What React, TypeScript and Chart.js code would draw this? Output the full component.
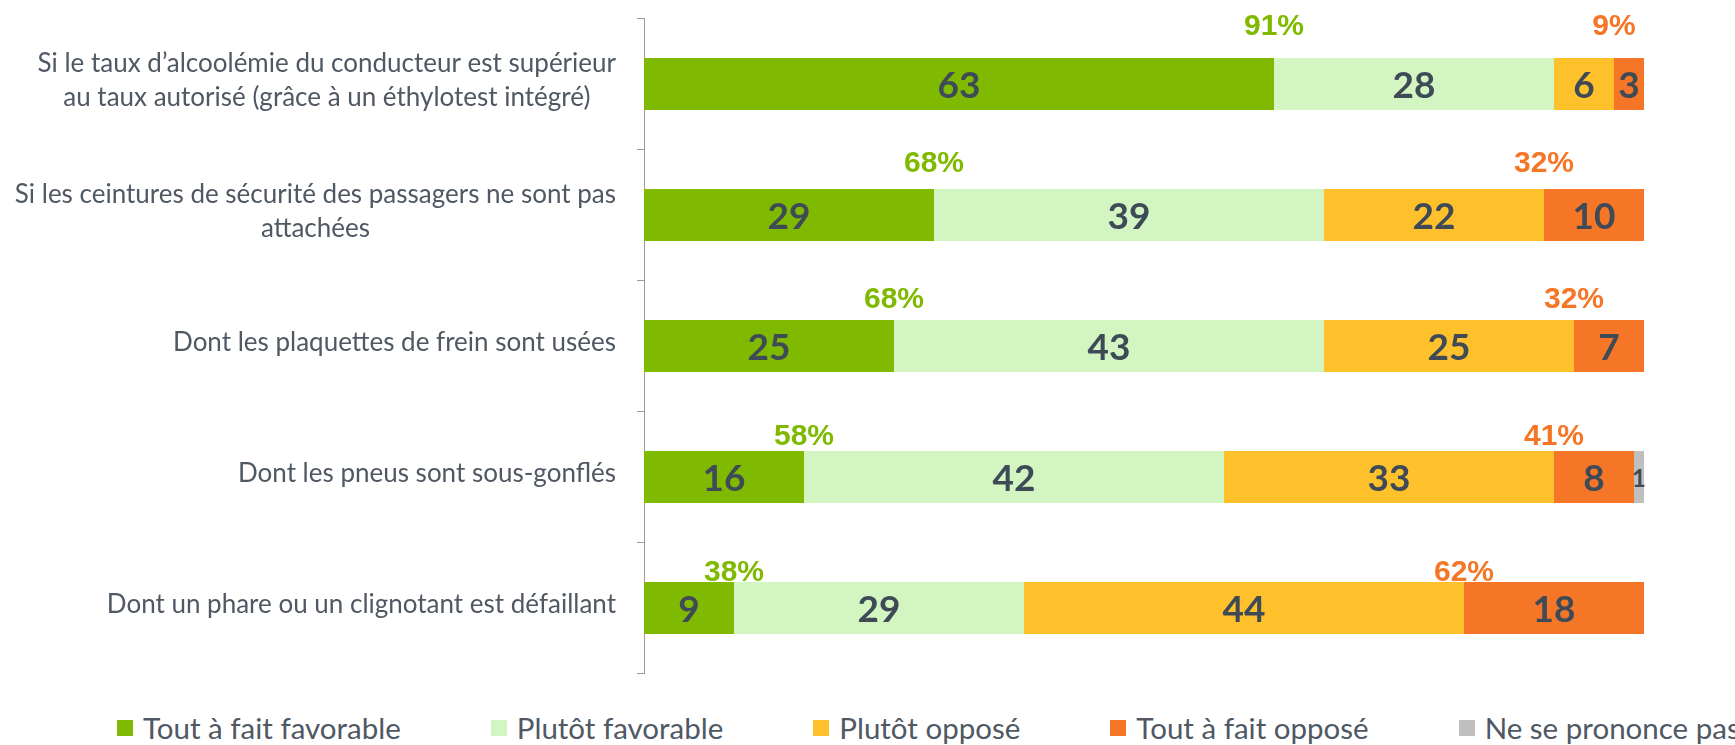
import React, { useEffect, useRef } from 'react';
import { Chart, registerables } from 'chart.js';

Chart.register(...registerables);

// ---- data ----
const categories: string[][] = [
  ['Si le taux d\u2019alcoolémie du conducteur est supérieur', 'au taux autorisé (grâce à un éthylotest intégré)'],
  ['Si les ceintures de sécurité des passagers ne sont pas', 'attachées'],
  ['Dont les plaquettes de frein sont usées'],
  ['Dont les pneus sont sous-gonflés'],
  ['Dont un phare ou un clignotant est défaillant'],
];
const seriesNames = [
  'Tout à fait favorable',
  'Plutôt favorable',
  'Plutôt opposé',
  'Tout à fait opposé',
  'Ne se prononce pas',
];
const toutAFaitFavorable = [63, 29, 25, 16, 9];
const plutotFavorable = [28, 39, 43, 42, 29];
const plutotOppose = [6, 22, 25, 33, 44];
const toutAFaitOppose = [3, 10, 7, 8, 18];
const neSePrononcePas = [0, 0, 0, 1, 0];
const totalFavorable = [91, 68, 68, 58, 38];
const totalOppose = [9, 32, 32, 41, 62];

// ---- style ----
const colors = ['#7fba00', '#d2f5c2', '#ffc12b', '#f47626', '#bfbfbf'];
const greenText = '#7fba00';
const orangeText = '#f47626';
const valueColor = '#3f4a57';
const labelColor = '#4f5863';
const labelFont = 'Lato, "DejaVu Sans", sans-serif';

const valueLabelsPlugin = {
  id: 'valueLabels',
  afterDatasetsDraw(chart: any) {
    const ctx = chart.ctx;
    ctx.save();
    ctx.textAlign = 'center';
    ctx.textBaseline = 'middle';
    ctx.fillStyle = valueColor;
    chart.data.datasets.forEach((ds: any, di: number) => {
      const meta = chart.getDatasetMeta(di);
      meta.data.forEach((el: any, i: number) => {
        const v = ds.data[i];
        if (!v) return;
        const w = Math.abs(el.x - el.base);
        ctx.font = (w < 20 ? 'bold 24px ' : 'bold 37px ') + labelFont;
        ctx.fillText(String(v), (el.x + el.base) / 2, el.y + 2);
      });
    });
    // totals above bars
    const metaFav = chart.getDatasetMeta(0);
    const metaOpp = chart.getDatasetMeta(3);
    ctx.font = 'bold 30px "Liberation Sans", Arial, sans-serif';
    metaFav.data.forEach((el: any, i: number) => {
      const top = el.y - el.height / 2;
      const off = 31 - 5.5 * i;
      ctx.fillStyle = greenText;
      ctx.fillText(totalFavorable[i] + '%', el.x, top - off);
      const o = metaOpp.data[i];
      ctx.fillStyle = orangeText;
      ctx.fillText(totalOppose[i] + '%', o.base, top - off);
    });
    ctx.restore();
  },
};

const yLabelsPlugin = {
  id: 'yLabels',
  afterDraw(chart: any) {
    const ctx = chart.ctx;
    const y = chart.scales.y;
    const right = chart.chartArea.left - 28;
    const lineH = 34;
    ctx.save();
    ctx.font = '26px ' + labelFont;
    ctx.fillStyle = labelColor;
    ctx.textAlign = 'center';
    ctx.textBaseline = 'middle';
    categories.forEach((lines, i) => {
      const cy = y.getPixelForTick(i);
      const bw = Math.max(...lines.map((l) => ctx.measureText(l).width));
      const cx = right - bw / 2;
      const start = cy - 3 - ((lines.length - 1) * lineH) / 2;
      lines.forEach((l, k) => ctx.fillText(l, cx, start + k * lineH));
    });
    ctx.restore();
  },
};

export default function App() {
  const ref = useRef<HTMLCanvasElement | null>(null);

  useEffect(() => {
    document.body.style.margin = '0';
    if (!ref.current) return;
    const series = [toutAFaitFavorable, plutotFavorable, plutotOppose, toutAFaitOppose, neSePrononcePas];
    const chart = new Chart(ref.current, {
      type: 'bar',
      data: {
        labels: categories.map((c) => c.join(' ')),
        datasets: series.map((d, i) => ({
          label: seriesNames[i],
          data: d,
          backgroundColor: colors[i],
          borderWidth: 0,
          barPercentage: 0.397,
          categoryPercentage: 1,
        })),
      },
      options: {
        indexAxis: 'y',
        animation: false,
        responsive: true,
        maintainAspectRatio: false,
        devicePixelRatio: 1,
        layout: { padding: { top: 10.5, bottom: 24.5, left: 0, right: 83 } },
        plugins: {
          legend: { display: false },
          tooltip: { enabled: false },
        },
        scales: {
          x: { stacked: true, display: false, min: 0, max: 100 },
          y: {
            stacked: true,
            afterFit: (s: any) => {
              s.width = 636;
            },
            ticks: { display: false },
            grid: {
              display: true,
              drawOnChartArea: false,
              drawTicks: true,
              tickLength: 7,
              color: '#9a9a9a',
              offset: true,
            },
            border: { display: true, color: '#9a9a9a', width: 1 },
          },
        },
      },
      plugins: [valueLabelsPlugin, yLabelsPlugin],
    });
    return () => chart.destroy();
  }, []);

  return (
    <div
      style={{
        position: 'relative',
        width: 1735,
        height: 745,
        boxSizing: 'border-box',
        paddingTop: 8,
        paddingLeft: 8,
        overflow: 'hidden',
      }}
    >
      <div style={{ position: 'relative', width: 1719, height: 690 }}>
        <canvas ref={ref} />
      </div>
      <div
        style={{
          position: 'absolute',
          top: 712,
          left: 117,
          height: 32,
          display: 'flex',
          alignItems: 'center',
          gap: 90,
          whiteSpace: 'nowrap',
          fontFamily: labelFont,
          fontSize: 29.5,
          lineHeight: '32px',
          color: labelColor,
        }}
      >
        {seriesNames.map((n, i) => (
          <div key={n} style={{ display: 'flex', alignItems: 'center' }}>
            <span
              style={{
                display: 'inline-block',
                width: 16,
                height: 16,
                background: colors[i],
                marginRight: 10,
              }}
            />
            <span>{n}</span>
          </div>
        ))}
      </div>
    </div>
  );
}
